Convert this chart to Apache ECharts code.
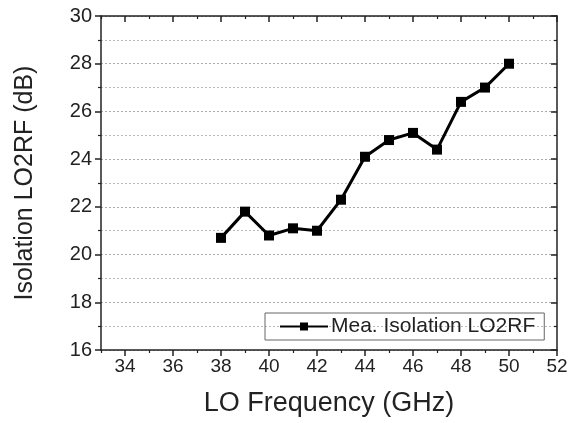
<!DOCTYPE html>
<html><head><meta charset="utf-8">
<script src="https://cdn.jsdelivr.net/npm/echarts@6/dist/echarts.min.js"></script>
<style>html,body{margin:0;padding:0;background:#fff}#c{width:571px;height:423px}</style>
</head><body><div id="c"></div>
<script>
const freq = [38, 39, 40, 41, 42, 43, 44, 45, 46, 47, 48, 49, 50];
const isolation = [20.7, 21.8, 20.8, 21.1, 21.0, 22.3, 24.1, 24.8, 25.1, 24.4, 26.4, 27.0, 28.0];
const xMajor = [34, 36, 38, 40, 42, 44, 46, 48, 50, 52];
const xMinor = [33, 35, 37, 39, 41, 43, 45, 47, 49, 51];
const seriesName = 'Mea. Isolation LO2RF';
const FONT = 'Liberation Sans';
const ax = '#222';

const chart = echarts.init(document.getElementById('c'), null, {renderer: 'canvas'});
const xBase = {type: 'value', min: 33, max: 52, splitLine: {show: false}};
chart.setOption({
  animation: false,
  grid: {left: 101, top: 16, right: 14, bottom: 73},
  legend: {
    left: 265, top: 313, width: 279,
    padding: [3, 9, 3, 14],
    borderColor: '#666', borderWidth: 1,
    itemWidth: 48, itemHeight: 10, itemGap: 4,
    textStyle: {fontFamily: FONT, fontSize: 21, color: '#222', padding: [0, 0, 0, -2]},
    data: [seriesName]
  },
  xAxis: [
    Object.assign({}, xBase, {
      position: 'bottom',
      name: 'LO Frequency (GHz)', nameLocation: 'middle', nameGap: 40,
      nameTextStyle: {fontFamily: FONT, fontSize: 27, color: '#222'},
      axisLine: {lineStyle: {color: ax, width: 1.5}},
      axisTick: {customValues: xMajor, length: 6, lineStyle: {color: ax, width: 1.5}},
      axisLabel: {customValues: xMajor, fontFamily: FONT, fontSize: 19, color: '#222', margin: 7}
    }),
    Object.assign({}, xBase, {
      position: 'bottom',
      axisLine: {show: false},
      axisTick: {customValues: xMinor, length: 3, lineStyle: {color: ax, width: 1.2}},
      axisLabel: {show: false}
    }),
    Object.assign({}, xBase, {
      position: 'top',
      axisLine: {lineStyle: {color: ax, width: 1.5}},
      axisTick: {customValues: xMajor, inside: true, length: 6, lineStyle: {color: ax, width: 1.5}},
      axisLabel: {show: false}
    }),
    Object.assign({}, xBase, {
      position: 'top',
      axisLine: {show: false},
      axisTick: {customValues: xMinor, inside: true, length: 3, lineStyle: {color: ax, width: 1.2}},
      axisLabel: {show: false}
    })
  ],
  yAxis: [
    {
      type: 'value', min: 16, max: 30, interval: 2, position: 'left',
      name: 'Isolation LO2RF (dB)', nameLocation: 'middle', nameGap: 63,
      nameTextStyle: {fontFamily: FONT, fontSize: 25, color: '#222'},
      axisLine: {show: true, lineStyle: {color: ax, width: 1.5}},
      axisTick: {show: true, length: 6, lineStyle: {color: ax, width: 1.5}},
      minorTick: {show: true, splitNumber: 2, length: 3, lineStyle: {color: ax, width: 1.2}},
      axisLabel: {fontFamily: FONT, fontSize: 20, color: '#222', margin: 9},
      splitLine: {show: true, lineStyle: {color: '#aaa', type: [2, 2], width: 1}},
      minorSplitLine: {show: true, lineStyle: {color: '#bbb', type: [2, 2], width: 1}}
    },
    {
      type: 'value', min: 16, max: 30, interval: 2, position: 'right',
      axisLine: {show: true, lineStyle: {color: ax, width: 1.5}},
      axisTick: {show: true, inside: true, length: 6, lineStyle: {color: ax, width: 1.5}},
      minorTick: {show: true, splitNumber: 2, length: 3, lineStyle: {color: ax, width: 1.2}},
      axisLabel: {show: false},
      splitLine: {show: false}
    }
  ],
  series: [{
    name: seriesName, type: 'line',
    xAxisIndex: 0, yAxisIndex: 0,
    data: freq.map((f, i) => [f, isolation[i]]),
    symbol: 'rect', symbolSize: 10,
    itemStyle: {color: '#000'},
    lineStyle: {color: '#000', width: 3}
  }]
});
</script></body></html>
